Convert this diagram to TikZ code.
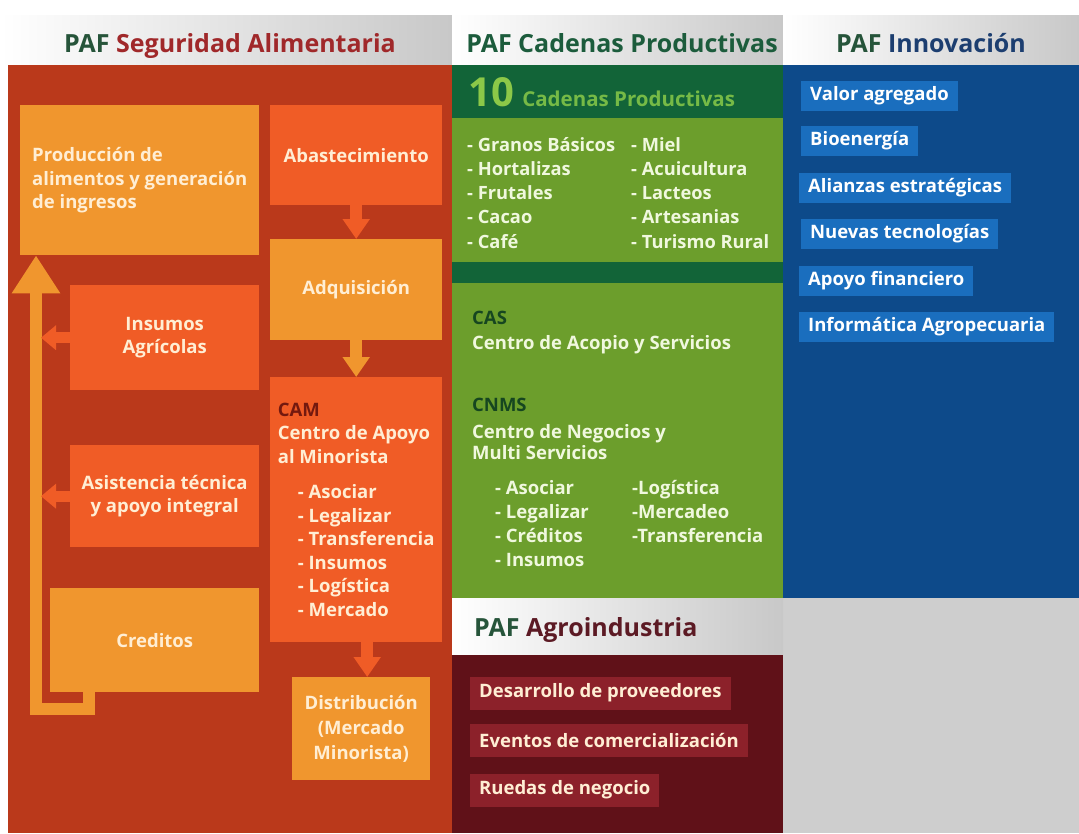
\documentclass[tikz,border=0pt]{standalone}
\usepackage{fontspec}
\setmainfont{Open Sans}
\usetikzlibrary{arrows.meta}
\definecolor{redpanel}{RGB}{186,57,27}
\definecolor{obox}{RGB}{240,92,38}
\definecolor{abox}{RGB}{240,150,46}
\definecolor{creamtxt}{RGB}{255,238,212}
\definecolor{camred}{RGB}{115,25,15}
\definecolor{dgreen}{RGB}{18,100,56}
\definecolor{lgreen}{RGB}{108,158,44}
\definecolor{tengreen}{RGB}{140,200,72}
\definecolor{cpgreen}{RGB}{118,186,70}
\definecolor{gtxt}{RGB}{240,248,222}
\definecolor{casgreen}{RGB}{22,70,32}
\definecolor{bpanel}{RGB}{13,74,138}
\definecolor{bitem}{RGB}{26,110,190}
\definecolor{mpanel}{RGB}{96,17,24}
\definecolor{mitem}{RGB}{140,33,42}
\definecolor{graybg}{RGB}{206,206,206}
\definecolor{hdrgray}{RGB}{200,200,200}
\definecolor{hpaf}{RGB}{38,84,58}
\definecolor{hred}{RGB}{160,40,42}
\definecolor{hgreen}{RGB}{28,92,60}
\definecolor{hblue}{RGB}{28,62,112}
\definecolor{hmaroon}{RGB}{92,26,36}
\newcommand\fBody{\bfseries\fontsize{18.5}{23.5}\selectfont}
\newcommand\fList{\bfseries\fontsize{18.3}{22}\selectfont}
\newcommand\fHead{\bfseries\fontsize{25}{30}\selectfont}
\begin{document}
\begin{tikzpicture}[x=1pt,y=-1pt,
  txt/.style={inner sep=0pt, font=\fBody},
  blk/.style={inner sep=0pt, font=\fBody, text=creamtxt, align=center, anchor=north west},
  obx/.style={blk, fill=obox},
  abx/.style={blk, fill=abox},
  varrow/.style={line width=12pt, -{Triangle[width=26pt,length=20pt]}},
  sarrow/.style={line width=11pt, obox, -{Triangle[width=24pt,length=15pt]}},
  uarrow/.style={line width=12pt, abox, -{Triangle[width=46pt,length=38pt]}},
  bitm/.style={txt, text=white, fill=bitem, anchor=west, inner xsep=9pt, minimum height=30pt},
  mitm/.style={txt, text=creamtxt, fill=mitem, anchor=west, inner xsep=9pt, minimum height=33pt},
  hdr/.style={inner sep=0pt, font=\fHead, anchor=base},
]
\useasboundingbox (0,0) rectangle (1079,833);
\fill[white] (0,0) rectangle (1079,833);
% header bands
\shade[left color=white, right color=hdrgray] (0,15) rectangle (452,65);
\shade[left color=white, right color=hdrgray] (452,15) rectangle (783,65);
\shade[left color=white, right color=hdrgray] (783,15) rectangle (1079,65);
\node[hdr] (h1) at (230,52) {\textcolor{hpaf}{PAF} \textcolor{hred}{Seguridad Alimentaria}};
\node[hdr, text=hgreen] (h2) at (622,52) {PAF Cadenas Productivas};
\node[hdr] (h3) at (931,52) {\textcolor{hpaf}{PAF} \textcolor{hblue}{Innovación}};

% left panel
\fill[redpanel] (8,65) rectangle (452,833);
\node[abx, minimum width=239pt, minimum height=150pt, align=left] (prod) at (20,105) {Producción de\\alimentos y generación\\de ingresos};
\node[obx, minimum width=172pt, minimum height=100pt] (abast) at (270,105) {Abastecimiento};
\node[abx, minimum width=172pt, minimum height=101pt] (adq) at (270,239) {Adquisición};
\node[obx, minimum width=172pt, minimum height=265pt, align=left] (cam) at (270,377)
  {\textcolor{camred}{CAM}\\Centro de Apoyo\\al Minorista\\[12pt]
   \hspace*{20pt}- Asociar\\\hspace*{20pt}- Legalizar\\\hspace*{20pt}- Transferencia\\
   \hspace*{20pt}- Insumos\\\hspace*{20pt}- Logística\\\hspace*{20pt}- Mercado};
\node[abx, minimum width=138pt, minimum height=103pt, font=\bfseries\fontsize{18.5}{25}\selectfont] (dist) at (292,677) {Distribución\\(Mercado\\Minorista)};
\node[obx, minimum width=189pt, minimum height=105pt] (ins) at (70,285) {Insumos\\Agrícolas};
\node[obx, minimum width=189pt, minimum height=102pt] (asis) at (70,445) {Asistencia técnica\\y apoyo integral};
\node[abx, minimum width=209pt, minimum height=104pt] (cred) at (50,588) {Creditos};

\draw[varrow, obox] (abast.south) -- (adq.north);
\draw[varrow, abox] (adq.south) -- (cam.north);
\coordinate (d3) at ([xshift=6pt]dist.north);
\draw[varrow, obox] (d3 |- cam.south) -- (d3);
\coordinate (u1) at ([xshift=39pt]cred.south west);
\coordinate (u2) at ([xshift=16pt]prod.south west);
\draw[uarrow] (u1) -- ++(0,17) -| (u2);
\coordinate (shaft) at (41,0);
\draw[sarrow] (ins.west) -- (ins.west -| shaft);
\draw[sarrow] (asis.west) -- (asis.west -| shaft);

% middle panel
\fill[dgreen] (452,65) rectangle (783,118);
\fill[lgreen] (452,118) rectangle (783,262);
\fill[dgreen] (452,262) rectangle (783,283);
\fill[lgreen] (452,283) rectangle (783,598);
\node[inner sep=0pt, anchor=base west, text=tengreen, font=\bfseries\fontsize{40}{42}\selectfont] (ten) at (468,106) {10};
\node[inner sep=0pt, anchor=base west, text=cpgreen, font=\bfseries\fontsize{20.5}{24}\selectfont] (cp) at ([xshift=8pt]ten.base east) {Cadenas Productivas};
\foreach \t [count=\i] in {Granos Básicos, Hortalizas, Frutales, Cacao, Café}
  \node[txt, font=\fList, text=gtxt, anchor=base west] (gl\i) at (467,{151+24.25*(\i-1)}) {- \t};
\foreach \t [count=\i] in {Miel, Acuicultura, Lacteos, Artesanias, Turismo Rural}
  \node[txt, font=\fList, text=gtxt, anchor=base west] (gr\i) at (631,{151+24.25*(\i-1)}) {- \t};
\node[txt, text=casgreen, anchor=base west] (cas) at (472,324) {CAS};
\node[txt, text=gtxt, anchor=base west] (casd) at (472,349) {Centro de Acopio y Servicios};
\node[txt, text=casgreen, anchor=base west] (cnms) at (472,411) {CNMS};
\node[txt, text=gtxt, anchor=base west] (cnd1) at (472,438) {Centro de Negocios y};
\node[txt, text=gtxt, anchor=base west] (cnd2) at (472,459) {Multi Servicios};
\foreach \t [count=\i] in {Asociar, Legalizar, Créditos, Insumos}
  \node[txt, text=gtxt, anchor=base west] (cl\i) at (495,{494+24.3*(\i-1)}) {- \t};
\foreach \t [count=\i] in {Logística, Mercadeo, Transferencia}
  \node[txt, text=gtxt, anchor=base west] (cr\i) at (632,{494+24.3*(\i-1)}) {-\t};

% right panel
\fill[bpanel] (783,65) rectangle (1079,598);
\node[bitm] (b1) at (801,96) {Valor agregado};
\node[bitm] (b2) at (801,141) {Bioenergía};
\node[bitm] (b3) at (799,188) {Alianzas estratégicas};
\node[bitm] (b4) at (801,234) {Nuevas tecnologías};
\node[bitm] (b5) at (799,281) {Apoyo financiero};
\node[bitm] (b6) at (799,327) {Informática Agropecuaria};

% bottom
\fill[graybg] (783,598) rectangle (1079,833);
\shade[left color=white, right color=hdrgray] (452,598) rectangle (783,655);
\node[hdr, anchor=base west] (agro) at (474,636) {\textcolor{hpaf}{PAF} \textcolor{hmaroon}{Agroindustria}};
\fill[mpanel] (452,655) rectangle (783,833);
\node[mitm] (a1) at (470,693) {Desarrollo de proveedores};
\node[mitm] (a2) at (470,740) {Eventos de comercialización};
\node[mitm] (a3) at (470,790) {Ruedas de negocio};
\end{tikzpicture}
\end{document}
